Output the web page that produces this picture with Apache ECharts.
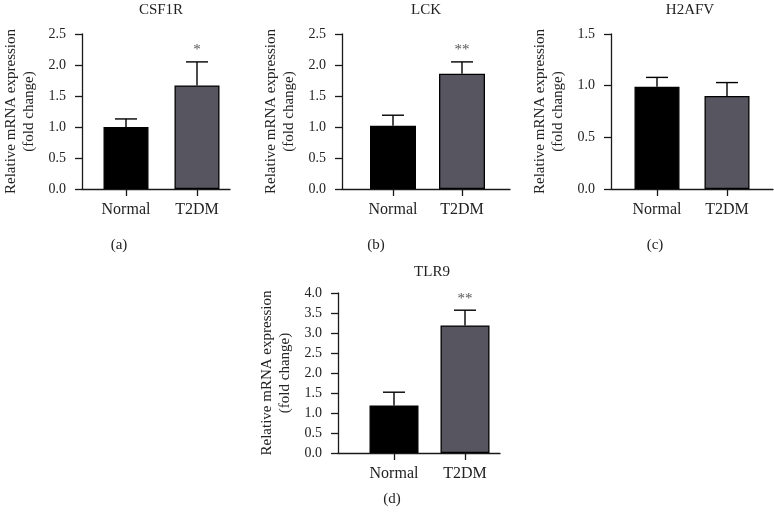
<!DOCTYPE html>
<html>
<head>
<meta charset="utf-8">
<script src="https://cdn.jsdelivr.net/npm/echarts@6/dist/echarts.min.js"></script>
<style>
html,body{margin:0;padding:0;background:#fff;}
#main{width:774px;height:515px;}
</style>
</head>
<body>
<div id="main"></div>
<script>
// ---- data ----
var categories = ['Normal', 'T2DM'];
var genes = ['CSF1R', 'LCK', 'H2AFV', 'TLR9'];
var panelLabels = ['(a)', '(b)', '(c)', '(d)'];
var meanCSF1R = [1.00, 1.67];
var semCSF1R = [0.13, 0.38];
var meanLCK = [1.02, 1.86];
var semLCK = [0.17, 0.19];
var meanH2AFV = [0.99, 0.90];
var semH2AFV = [0.09, 0.13];
var meanTLR9 = [1.19, 3.19];
var semTLR9 = [0.33, 0.38];
var sigCSF1R = ['', '*'];
var sigLCK = ['', '**'];
var sigH2AFV = ['', ''];
var sigTLR9 = ['', '**'];
var yMaxes = [2.5, 2.5, 1.5, 4.0];
var yIntervals = [0.5, 0.5, 0.5, 0.5];

var means = [meanCSF1R, meanLCK, meanH2AFV, meanTLR9];
var sems = [semCSF1R, semLCK, semH2AFV, semTLR9];
var sigs = [sigCSF1R, sigLCK, sigH2AFV, sigTLR9];

// ---- layout (pixels) ----
var FONT = 'Liberation Serif';
var layout = [
  {axisLeft: 82,  top: 34,  height: 155, axisWidth: 148, catLeft: 90.5, catWidth: 142, barW: 45, titleX: 161, titleY: 10, labX: 119, labY: 245},
  {axisLeft: 342, top: 34,  height: 155, axisWidth: 168, catLeft: 358.5, catWidth: 138, barW: 46, titleX: 426, titleY: 10, labX: 376, labY: 245},
  {axisLeft: 611, top: 34,  height: 155, axisWidth: 162, catLeft: 622, catWidth: 140, barW: 45, titleX: 690, titleY: 10, labX: 655, labY: 245},
  {axisLeft: 338, top: 293, height: 160, axisWidth: 162, catLeft: 358.5, catWidth: 142, barW: 49, titleX: 432, titleY: 272, labX: 392, labY: 499}
];
var barColors = ['#000000', '#57555f'];
var axisColor = '#1a1a1a';
var textColor = '#222222';

var grids = [], xAxes = [], yAxes = [], series = [], graphics = [];

layout.forEach(function (L, p) {
  var gA = grids.length;
  grids.push({left: L.axisLeft, top: L.top, width: L.axisWidth, height: L.height, containLabel: false});
  var gB = grids.length;
  grids.push({left: L.catLeft, top: L.top, width: L.catWidth, height: L.height, containLabel: false});

  // frame axes (grid A)
  var xa = xAxes.length;
  xAxes.push({
    type: 'value', gridIndex: gA, min: 0, max: 1,
    axisLine: {show: true, lineStyle: {color: axisColor, width: 1.3}},
    axisTick: {show: false}, axisLabel: {show: false}, splitLine: {show: false}
  });
  var ya = yAxes.length;
  yAxes.push({
    type: 'value', gridIndex: gA, min: 0, max: yMaxes[p], interval: yIntervals[p],
    axisLine: {show: true, lineStyle: {color: axisColor, width: 1.3}},
    axisTick: {show: true, length: 7, lineStyle: {color: axisColor, width: 1.3}},
    axisLabel: {show: true, margin: 16, color: textColor, fontFamily: FONT, fontSize: 14,
      formatter: function (v) { return v.toFixed(1); }},
    splitLine: {show: false},
    name: 'Relative mRNA expression\n(fold change)',
    nameLocation: 'middle', nameGap: 44, nameRotate: 90,
    nameTextStyle: {color: textColor, fontFamily: FONT, fontSize: 15, lineHeight: 18}
  });

  // category axes (grid B)
  var xb = xAxes.length;
  xAxes.push({
    type: 'category', gridIndex: gB, data: categories,
    axisLine: {show: false},
    axisTick: {show: true, alignWithLabel: true, length: 7, lineStyle: {color: axisColor, width: 1.3}},
    axisLabel: {show: true, margin: 13, color: textColor, fontFamily: FONT, fontSize: 16},
    splitLine: {show: false}
  });
  var yb = yAxes.length;
  yAxes.push({
    type: 'value', gridIndex: gB, min: 0, max: yMaxes[p], interval: yIntervals[p],
    show: false
  });

  var m = means[p], s = sems[p], sg = sigs[p];
  series.push({
    type: 'bar', xAxisIndex: xb, yAxisIndex: yb, barWidth: L.barW,
    data: m.map(function (v, i) {
      return {value: v, itemStyle: {color: barColors[i], borderColor: '#000', borderWidth: 1.3}};
    }),
    silent: true, z: 2
  });
  series.push({
    type: 'custom', xAxisIndex: xb, yAxisIndex: yb, z: 3, silent: true,
    data: m.map(function (v, i) { return [i, v, s[i]]; }),
    renderItem: function (params, api) {
      var i = api.value(0), v = api.value(1), e = api.value(2);
      var p0 = api.coord([i, v]);
      var p1 = api.coord([i, v + e]);
      var cap = 11;
      var children = [
        {type: 'line', shape: {x1: p0[0], y1: p0[1], x2: p1[0], y2: p1[1]}, style: {stroke: '#000', lineWidth: 1.4}},
        {type: 'line', shape: {x1: p1[0] - cap, y1: p1[1], x2: p1[0] + cap, y2: p1[1]}, style: {stroke: '#000', lineWidth: 1.4}}
      ];
      var t = sg[params.dataIndex];
      if (t) {
        children.push({type: 'text', x: p1[0], y: p1[1] - 4,
          style: {text: t, fontFamily: FONT, fontSize: 15, fill: '#555', align: 'center', verticalAlign: 'bottom'}});
      }
      return {type: 'group', children: children};
    }
  });

  graphics.push({type: 'text', x: L.titleX, y: L.titleY,
    style: {text: genes[p], fontFamily: FONT, fontSize: 15, fill: textColor, align: 'center', verticalAlign: 'middle'}});
  graphics.push({type: 'text', x: L.labX, y: L.labY,
    style: {text: panelLabels[p], fontFamily: FONT, fontSize: 15, fill: textColor, align: 'center', verticalAlign: 'middle'}});
});

var chart = echarts.init(document.getElementById('main'), null, {renderer: 'canvas'});
chart.setOption({
  backgroundColor: '#ffffff',
  animation: false,
  grid: grids,
  xAxis: xAxes,
  yAxis: yAxes,
  series: series,
  graphic: graphics
});
</script>
</body>
</html>
